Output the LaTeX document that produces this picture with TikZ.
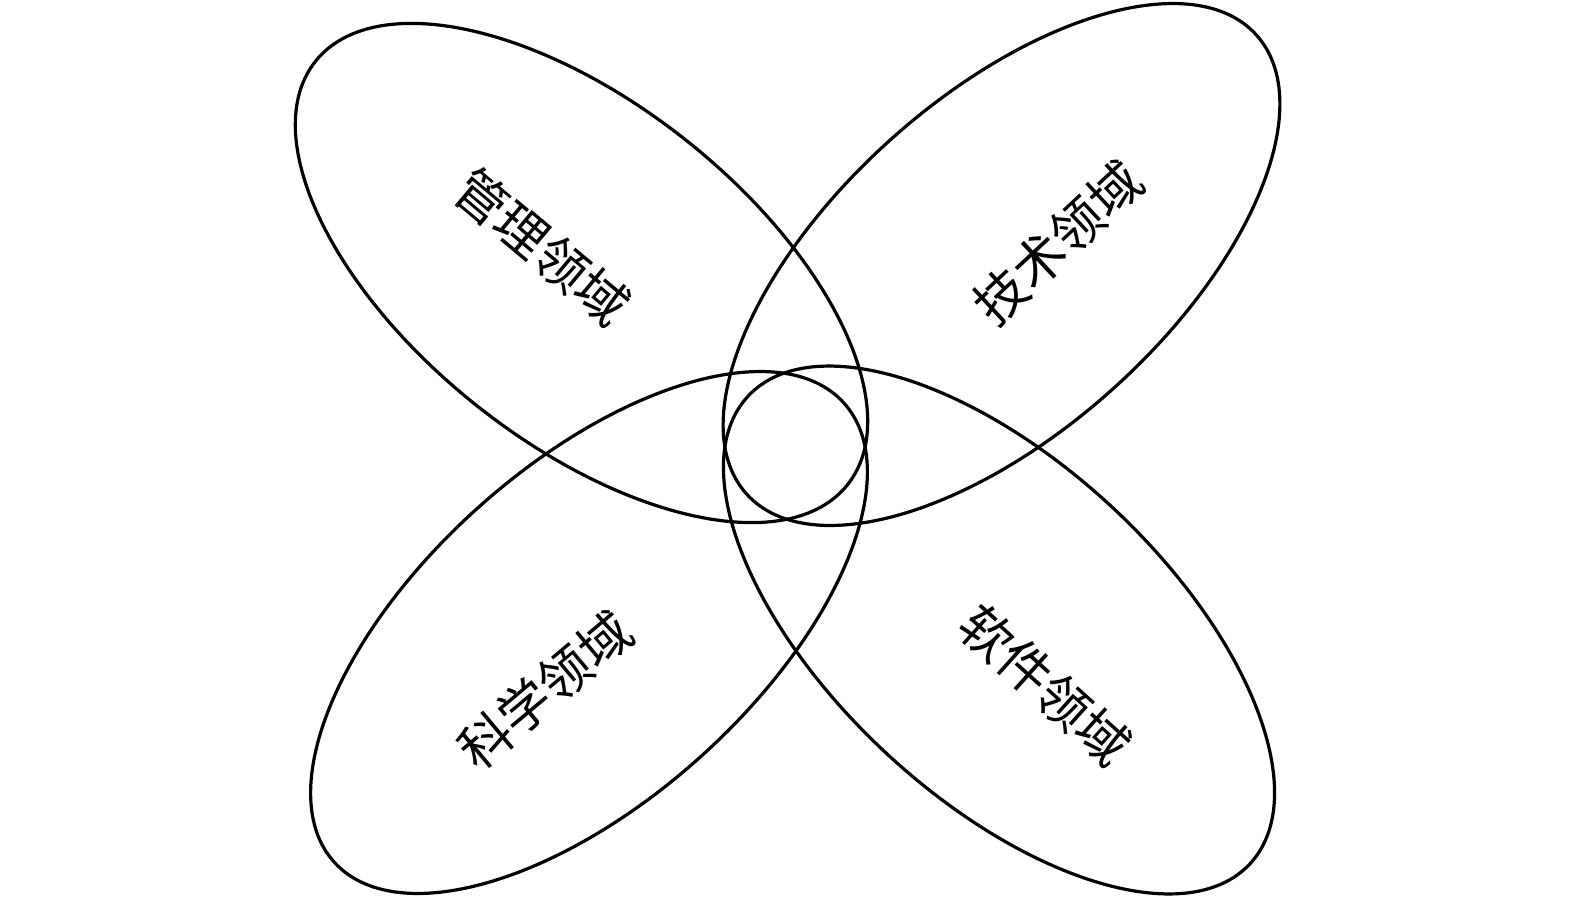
\documentclass[tikz,border=0pt]{standalone}
\usepackage{fontspec}
\newfontfamily\cjk{Noto Sans CJK SC}
\usetikzlibrary{shapes.geometric}
\begin{document}
\begin{tikzpicture}[x=0.5pt,y=-0.5pt,
  petal/.style={draw, ellipse, line width=1.6pt, inner sep=0pt},
  lbl/.style={font=\cjk\fontsize{26pt}{30pt}\selectfont, inner sep=0pt}]
\useasboundingbox (0,0) rectangle (1575,900);
\node[petal, minimum width=340pt, minimum height=169pt, rotate=-38.5] (mgmt) at (581.5,273) {};
\node[petal, minimum width=343pt, minimum height=167pt, rotate=42] (tech) at (1001.5,264.5) {};
\node[petal, minimum width=343pt, minimum height=167pt, rotate=42] (sci) at (589,632.5) {};
\node[petal, minimum width=343pt, minimum height=167pt, rotate=-43] (soft) at (999,630) {};
\node[lbl, rotate=-40] (lmgmt) at (542,247) {管理领域};
\node[lbl, rotate=43] (ltech) at (1058,243) {技术领域};
\node[lbl, rotate=40] (lsci) at (545,690) {科学领域};
\node[lbl, rotate=-42] (lsoft) at (1045,685) {软件领域};
\end{tikzpicture}
\end{document}
